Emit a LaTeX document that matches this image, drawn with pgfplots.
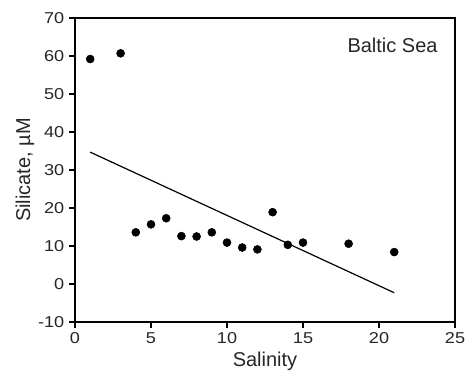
\documentclass[border=0pt]{standalone}
\usepackage{pgfplots}
\pgfplotsset{compat=1.18}
\usepackage{fontspec}
\setmainfont{Liberation Sans}
\newfontfamily\tickfont{Liberation Sans}[FakeStretch=1.15]
\begin{document}
\begin{tikzpicture}
\begin{axis}[
  name=ax,
  scale only axis,
  width=285pt, height=228pt,
  xmin=0, xmax=25, ymin=-10, ymax=70,
  xtick={0,5,10,15,20,25},
  ytick={-10,0,10,20,30,40,50,60,70},
  axis x line*=bottom, axis y line*=left,
  tick align=outside,
  major tick length=4.5pt,
  tick style={black, line width=0.9pt},
  axis line style={line width=1pt},
  /pgf/number format/assume math mode=true,
  ticklabel style={font=\tickfont\fontsize{11.8}{14}\selectfont, text=black!85},
  xlabel={Salinity}, ylabel={Silicate, µM},
  label style={font=\fontsize{15}{17}\selectfont, text=black!85},
  xlabel style={at={(axis description cs:0.5,-0.148)}, anchor=base},
  ylabel style={at={(axis description cs:-0.118,0.5)}, anchor=base, rotate=0},
  clip=false,
]
\addplot[only marks, mark=*, mark size=3pt, black] coordinates {
(1,59.2) (3,60.7) (4,13.6) (5,15.7) (6,17.3) (7,12.6) (8,12.5) (9,13.6)
(10,10.9) (11,9.6) (12,9.1) (13,18.9) (14,10.3) (15,10.9) (18,10.6) (21,8.4)
};
\addplot[black, line width=0.9pt] coordinates {(1,34.7) (21,-2.3)};
\draw[line width=1pt] (axis cs:0,70) -- (axis cs:25,70) -- (axis cs:25,-10);
\node[font=\fontsize{15}{17}\selectfont, text=black!85] at (axis cs:20.89,62.8) {Baltic Sea};
\end{axis}
\pgfresetboundingbox
\path[use as bounding box] ([shift={(-56.25pt,-39.75pt)}]ax.south west) rectangle ([shift={(8.25pt,13.5pt)}]ax.north east);
\end{tikzpicture}
\end{document}
